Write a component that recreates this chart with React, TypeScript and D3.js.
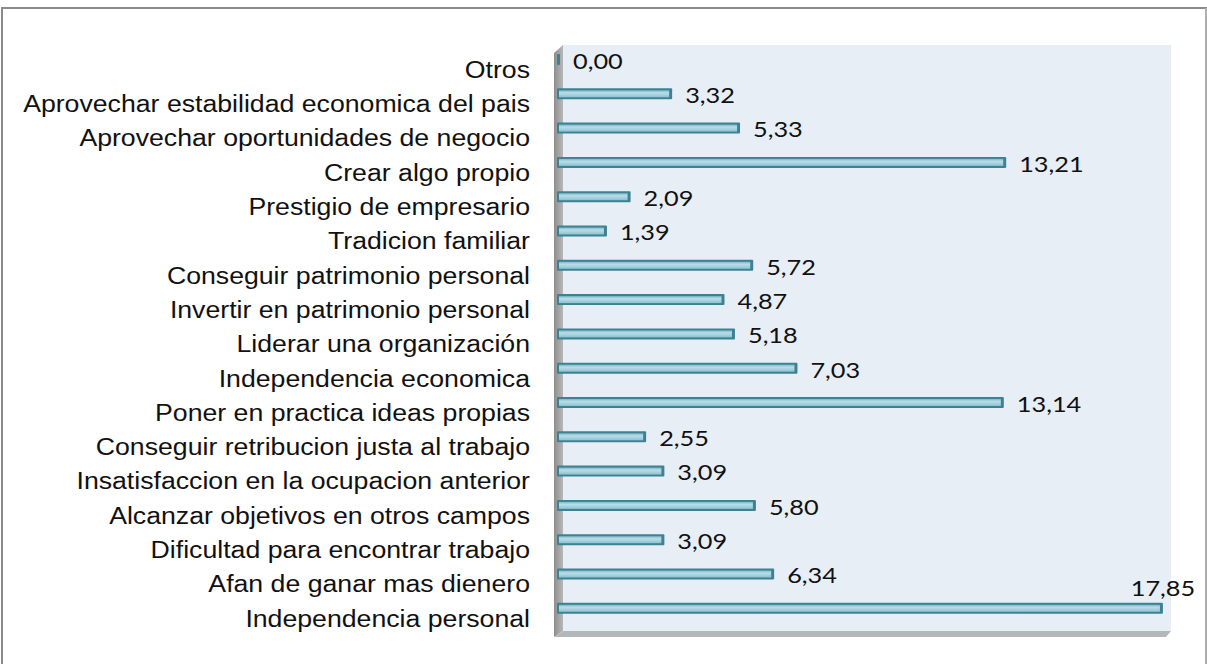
import React from "react";
import * as d3 from "d3";

const categories = [
  "Otros",
  "Aprovechar estabilidad economica del pais",
  "Aprovechar oportunidades de negocio",
  "Crear algo propio",
  "Prestigio de empresario",
  "Tradicion familiar",
  "Conseguir patrimonio personal",
  "Invertir en patrimonio personal",
  "Liderar una organización",
  "Independencia economica",
  "Poner en practica ideas propias",
  "Conseguir retribucion justa al trabajo",
  "Insatisfaccion en la ocupacion anterior",
  "Alcanzar objetivos en otros campos",
  "Dificultad para encontrar trabajo",
  "Afan de ganar mas dienero",
  "Independencia personal",
];
const values = [0.0, 3.32, 5.33, 13.21, 2.09, 1.39, 5.72, 4.87, 5.18, 7.03, 13.14, 2.55, 3.09, 5.8, 3.09, 6.34, 17.85];

const W = 1207;
const H = 664;
const wallL = 563;
const wallR = 1171;
const wallT = 45;
const wallB = 631;
const depth = 9;

export default function App() {
  const x = d3.scaleLinear().domain([0, 18]).range([560, 1168]);
  const y = d3.scaleBand<string>().domain(categories).range([42.35, 625.45]);
  const barH = 11;
  const fmt = (v: number) => v.toFixed(2).replace(".", ",");

  return (
    <svg
      width={W}
      height={H}
      style={{ position: "absolute", left: 0, top: 0, background: "#fff" }}
    >
      <defs>
        <linearGradient id="barGrad" x1="0" y1="0" x2="0" y2="1">
          <stop offset="0" stopColor="#7fb6c6" />
          <stop offset="0.35" stopColor="#b9dde8" />
          <stop offset="0.7" stopColor="#a3cfdc" />
          <stop offset="1" stopColor="#8cc0cf" />
        </linearGradient>
        <linearGradient id="wallGrad" x1="0" y1="0" x2="1" y2="0">
          <stop offset="0" stopColor="#8e8e8e" />
          <stop offset="1" stopColor="#b8b8b8" />
        </linearGradient>
      </defs>
      {/* outer border */}
      <rect x={2} y={8} width={1204} height={700} fill="#fff" stroke="#8a8a8a" strokeWidth={2} />
      <line x1={1206} y1={8} x2={1206} y2={H} stroke="#d0d0d0" strokeWidth={1} />
      {/* back wall */}
      <rect x={wallL} y={wallT} width={wallR - wallL} height={wallB - wallT} fill="#e8eef6" />
      {/* left wall */}
      <polygon
        points={`${wallL - depth},${wallT + 8} ${wallL},${wallT} ${wallL},${wallB} ${wallL - depth},${wallB + 6}`}
        fill="url(#wallGrad)"
      />
      {/* floor */}
      <polygon
        points={`${wallL},${wallB} ${wallR},${wallB} ${wallR - 5},${wallB + 6} ${wallL - depth},${wallB + 6}`}
        fill="#b4b7ba"
      />
      {/* bars */}
      {categories.map((c, i) => {
        const v = values[i];
        const cy = (y(c) as number) + y.bandwidth() / 2;
        const x0 = 557;
        const x1 = x(v);
        const w = Math.max(x1 - x0, 3);
        return (
          <g key={c}>
            <rect x={x0} y={cy - barH / 2} width={w} height={barH} fill="#3d8293" rx={1} />
            {w > 6 && (
              <rect
                x={x0 + 2}
                y={cy - barH / 2 + 2}
                width={w - 5}
                height={barH - 4}
                fill="url(#barGrad)"
              />
            )}
          </g>
        );
      })}
      {/* category labels */}
      {categories.map((c) => {
        const cy = (y(c) as number) + y.bandwidth() / 2 + 10;
        return (
          <text
            key={"l" + c}
            transform={`translate(530,${cy}) scale(1.16,1)`}
            textAnchor="end"
            dominantBaseline="central"
            fontFamily="'Liberation Sans', Arial, sans-serif"
            fontSize={23}
            fill="#111"
          >
            {c}
          </text>
        );
      })}
      {/* value labels */}
      {categories.map((c, i) => {
        const v = values[i];
        const cy = (y(c) as number) + y.bandwidth() / 2;
        const xe = x(v);
        const over = xe + 80 > W;
        const tx = over ? xe : xe + 13;
        const ty = over ? cy - 21 : cy + 1;
        return (
          <text
            key={"v" + c}
            transform={`translate(${tx},${ty}) scale(1.15,1)`}
            textAnchor={over ? "middle" : "start"}
            dominantBaseline="central"
            fontFamily="Lato, 'Open Sans', sans-serif"
            fontSize={22}
            fill="#111"
          >
            {fmt(v)}
          </text>
        );
      })}
    </svg>
  );
}
